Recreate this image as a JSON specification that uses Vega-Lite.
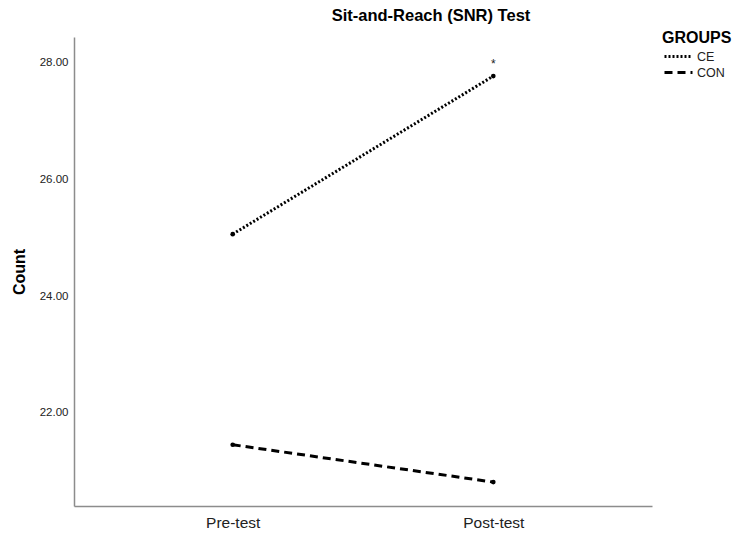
{
  "$schema": "https://vega.github.io/schema/vega-lite/v6.json",
  "width": 578,
  "height": 469,
  "autosize": "none",
  "padding": {"left": 74, "top": 37, "right": 81, "bottom": 27},
  "background": "white",
  "title": {
    "text": "Sit-and-Reach (SNR) Test",
    "font": "Liberation Sans",
    "fontSize": 16.5,
    "fontWeight": "bold",
    "color": "#000000",
    "anchor": "middle",
    "frame": "group",
    "dx": 68,
    "offset": 6
  },
  "data": {
    "values": [
      {"time": "Pre-test", "group": "CE", "value": 25.06, "mark": ""},
      {"time": "Post-test", "group": "CE", "value": 27.77, "mark": "*"},
      {"time": "Pre-test", "group": "CON", "value": 21.45, "mark": ""},
      {"time": "Post-test", "group": "CON", "value": 20.81, "mark": ""}
    ]
  },
  "encoding": {
    "x": {
      "field": "time",
      "type": "nominal",
      "sort": ["Pre-test", "Post-test"],
      "scale": {"type": "point", "padding": 0.609},
      "axis": {
        "title": null,
        "labelAngle": 0,
        "ticks": false,
        "labelFont": "Liberation Sans",
        "labelFontSize": 15.5,
        "labelColor": "#222222",
        "labelPadding": 9,
        "domainColor": "#8c8c8c",
        "domainWidth": 1.5
      }
    },
    "y": {
      "field": "value",
      "type": "quantitative",
      "scale": {"domain": [20.4, 28.44], "nice": false, "zero": false},
      "axis": {
        "title": "Count",
        "titleFont": "Liberation Sans",
        "titleFontSize": 16,
        "titleFontWeight": "bold",
        "titleColor": "#000000",
        "titlePadding": 12,
        "values": [22, 24, 26, 28],
        "format": ".2f",
        "ticks": false,
        "grid": false,
        "labelFont": "Liberation Sans",
        "labelFontSize": 11.5,
        "labelColor": "#222222",
        "labelPadding": 6,
        "domainColor": "#8c8c8c",
        "domainWidth": 1.5
      }
    }
  },
  "layer": [
    {
      "mark": {"type": "line", "color": "#000000", "strokeWidth": 3},
      "encoding": {
        "strokeDash": {
          "field": "group",
          "type": "nominal",
          "scale": {"domain": ["CE", "CON"], "range": [[2, 2], [8, 5]]},
          "legend": {
            "title": "GROUPS",
            "orient": "none",
            "legendX": 588,
            "legendY": -7,
            "titleFont": "Liberation Sans",
            "titleFontSize": 16,
            "titleFontWeight": "bold",
            "titleColor": "#000000",
            "titlePadding": 2,
            "labelFont": "Liberation Sans",
            "labelFontSize": 12.5,
            "labelColor": "#222222",
            "symbolType": "M-0.857,0H3.143",
            "symbolSize": 196,
            "symbolStrokeWidth": 3,
            "symbolStrokeColor": "#000000",
            "symbolFillColor": "transparent",
            "labelOffset": 18,
            "rowPadding": 1
          }
        }
      }
    },
    {
      "mark": {"type": "point", "filled": true, "color": "#000000", "size": 22, "opacity": 1},
      "encoding": {"detail": {"field": "group"}}
    },
    {
      "mark": {"type": "text", "font": "Liberation Sans", "fontSize": 12, "color": "#222222", "dy": -12},
      "encoding": {"text": {"field": "mark"}}
    }
  ],
  "config": {"view": {"stroke": null}}
}
